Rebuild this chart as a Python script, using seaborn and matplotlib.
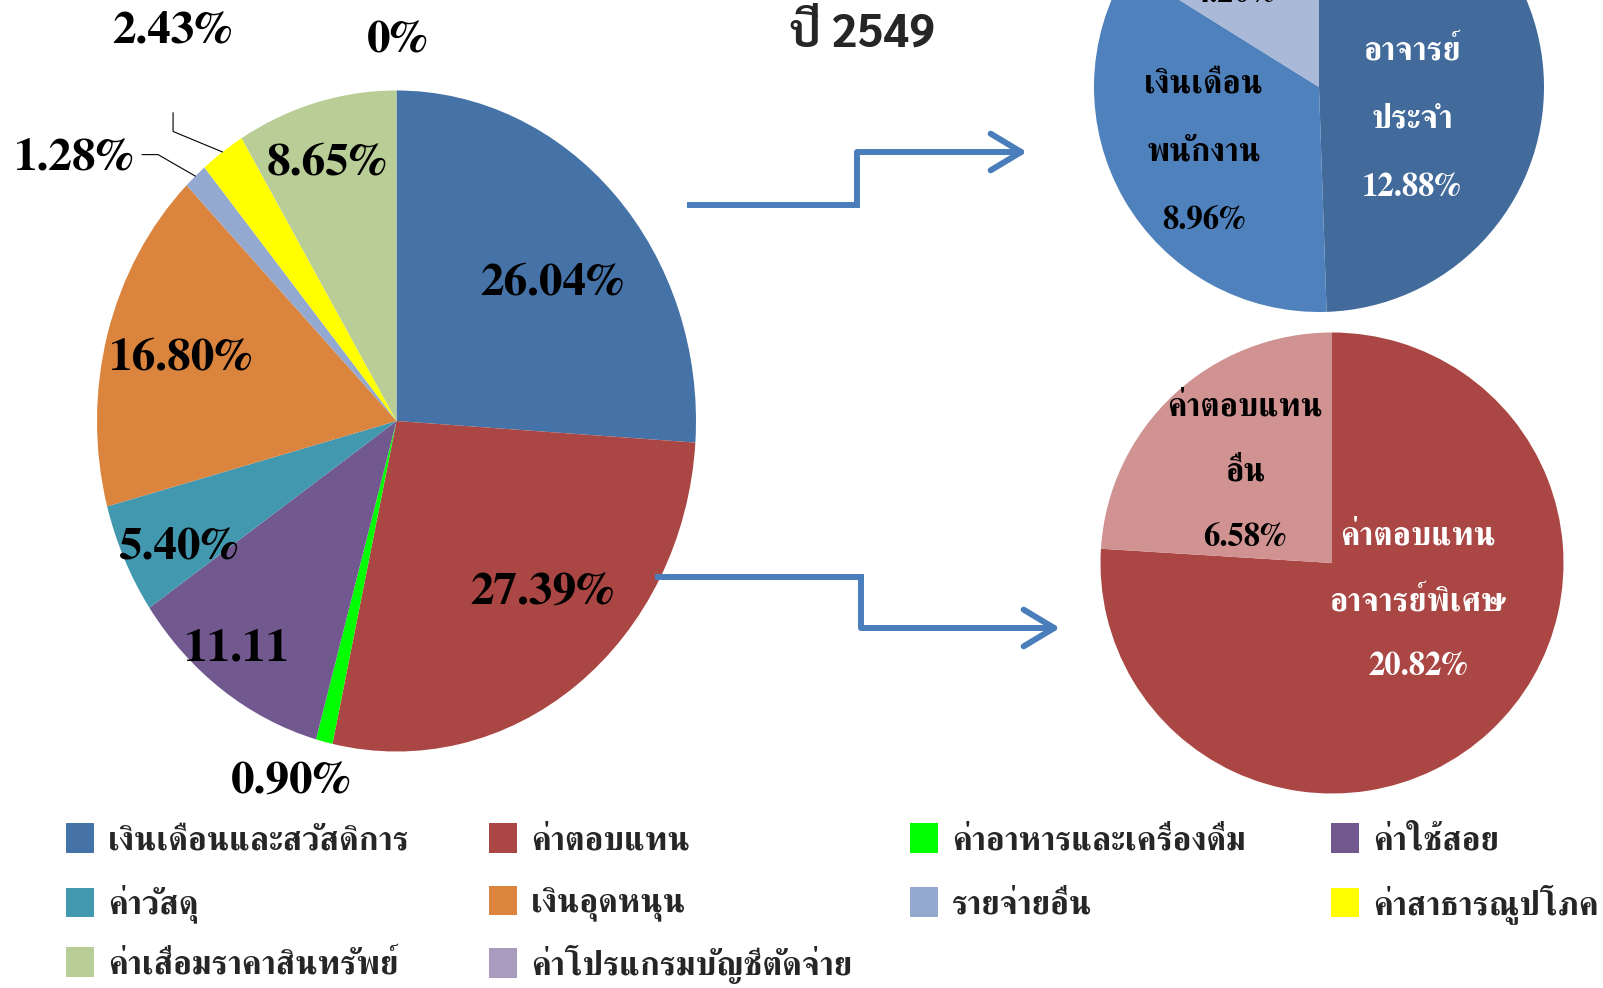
import matplotlib
matplotlib.use("Agg")
import matplotlib.pyplot as plt
import seaborn as sns
import numpy as np

sns.set_theme(style="white")
SERIF = ["FreeSerif", "Noto Serif Thai", "Liberation Serif", "DejaVu Serif"]
SANS = ["Sarabun", "IBM Plex Sans Thai", "Noto Sans Thai", "DejaVu Sans"]
plt.rcParams["font.family"] = SERIF

# main pie: expense shares, year 2549
categories = ["เงินเดือนและสวัสดิการ", "ค่าตอบแทน", "ค่าอาหารและเครื่องดื่ม", "ค่าใช้สอย",
              "ค่าวัสดุ", "เงินอุดหนุน", "รายจ่ายอื่น", "ค่าสาธารณูปโภค",
              "ค่าเสื่อมราคาสินทรัพย์", "ค่าโปรแกรมบัญชีตัดจ่าย"]
shares = [26.04, 27.39, 0.90, 11.11, 5.40, 16.80, 1.28, 2.43, 8.65, 0.0]
share_labels = ["26.04%", "27.39%", "0.90%", "11.11", "5.40%", "16.80%",
                "1.28%", "2.43%", "8.65%", "0%"]
main_colors = ["#4572A7", "#AA4643", "#00FF00", "#71588F", "#4198AF",
               "#DB843D", "#93A9CF", "#FFFF00", "#B9CD96", "#A99BBD"]

# breakdown of salaries
salary_values = [12.88, 8.96, 4.20]
salary_labels = [["อาจารย์", "ประจำ", "12.88%"], ["เงินเดือน", "พนักงาน", "8.96%"], ["4.20%"]]
salary_colors = ["#426B9C", "#4F81BD", "#AAB9D7"]
salary_text = ["white", "black", "black"]

# breakdown of compensation
comp_values = [20.82, 6.58]
comp_labels = [["ค่าตอบแทน", "อาจารย์พิเศษ", "20.82%"], ["ค่าตอบแทน", "อื่น", "6.58%"]]
comp_colors = ["#AA4643", "#D09392"]
comp_text = ["white", "black"]

W, H = 1603, 988
fig = plt.figure(figsize=(W / 100, H / 100), dpi=100)


def pie_axes(cx, cy, rx, ry):
    # axes box in pixel coords (y from top)
    return fig.add_axes([(cx - rx) / W, (H - cy - ry) / H, 2 * rx / W, 2 * ry / H])


def draw_pie(ax, values, colors):
    wedges, _ = ax.pie(values, colors=sns.color_palette(colors), startangle=90,
                       counterclock=False, radius=1, wedgeprops=dict(linewidth=0))
    ax.set_aspect("auto")
    ax.set_xlim(-1, 1)
    ax.set_ylim(-1, 1)
    ax.axis("off")
    return wedges


# ---- main pie
ax = pie_axes(396.5, 421, 299.5, 330.5)
wedges = draw_pie(ax, shares, main_colors)

main_label_pos = [(0.519, 0.416), (0.486, -0.522), (-0.352, -1.094), (-0.533, -0.694),
                  (-0.726, -0.383), (-0.720, 0.189), (-1.077, 0.794), (-0.750, 1.178),
                  (-0.232, 0.779), (0.002, 1.148)]
for lab, (x, y) in zip(share_labels, main_label_pos):
    ax.text(x, y, lab, ha="center", va="center", fontsize=34, fontweight="bold",
            color="black", clip_on=False)

# leader lines for the two thin slices
bounds = np.cumsum([0] + shares)
knees = {6: [(-0.850, 0.806), (-0.796, 0.806)], 7: [(-0.746, 0.933), (-0.746, 0.876)]}
for i, pts in knees.items():
    mid = (bounds[i] + bounds[i + 1]) / 2 / 100 * 2 * np.pi
    ex, ey = np.sin(mid), np.cos(mid)
    xs = [p[0] for p in pts] + [ex]
    ys = [p[1] for p in pts] + [ey]
    ax.plot(xs, ys, color="black", lw=0.8, clip_on=False)

# ---- salary breakdown pie (top right)
ax1 = pie_axes(1319, 87, 225, 225)
draw_pie(ax1, salary_values, salary_colors)
sal_pos = [(0.413, 0.16), (-0.511, 0.009), (-0.373, 0.415)]
for lines, (x, y), c in zip(salary_labels, sal_pos, salary_text):
    for k, t in enumerate(lines):
        ax1.text(x, y - k * 0.305, t, ha="center", va="center", fontsize=23.5,
                 fontweight="bold", color=c, clip_on=False)

# ---- compensation breakdown pie (bottom right)
ax2 = pie_axes(1332, 563, 231.5, 230.5)
draw_pie(ax2, comp_values, comp_colors)
comp_pos = [(0.372, 0.113), (-0.377, 0.675)]
for lines, (x, y), c in zip(comp_labels, comp_pos, comp_text):
    for k, t in enumerate(lines):
        ax2.text(x, y - k * 0.283, t, ha="center", va="center", fontsize=23.5,
                 fontweight="bold", color=c, clip_on=False)

# ---- overlay for title and arrows (pixel coords)
ov = fig.add_axes([0, 0, 1, 1], zorder=5)
ov.set_xlim(0, W)
ov.set_ylim(H, 0)
ov.axis("off")
ov.patch.set_visible(False)

ov.text(862, 34, "ปี 2549", ha="center", va="center", fontsize=33,
        fontweight="bold", family=SANS)

arrow_col = "#4A7EBB"
paths = [[(687, 205), (857, 205), (857, 152), (1027, 152)],
         [(655, 577), (861, 577), (861, 628), (1060, 628)]]
for p in paths:
    xs, ys = zip(*p[:-1])
    ov.plot(xs, ys, color=arrow_col, lw=4.3, solid_joinstyle="miter", solid_capstyle="butt")
    ov.annotate("", xy=p[-1], xytext=p[-2],
                arrowprops=dict(arrowstyle="->,head_length=1.0,head_width=0.6",
                                color=arrow_col, lw=4.3, mutation_scale=22,
                                shrinkA=0, shrinkB=0, capstyle="round"))

# ---- legend, one entry per cell of a 4-column grid
leg_x = [66, 489, 910, 1331]
leg_y = [840, 904, 964]
for i, (w, lab) in enumerate(zip(wedges, categories)):
    x, y = leg_x[i % 4], leg_y[i // 4]
    fig.legend([w], [lab], loc="center left", bbox_to_anchor=(x / W, 1 - y / H),
               frameon=False, borderpad=0, borderaxespad=0, handlelength=0.85,
               handleheight=0.97, handletextpad=0.42,
               prop=dict(family=SERIF, size=24, weight="bold"))

fig.savefig("out.png", dpi=100)
